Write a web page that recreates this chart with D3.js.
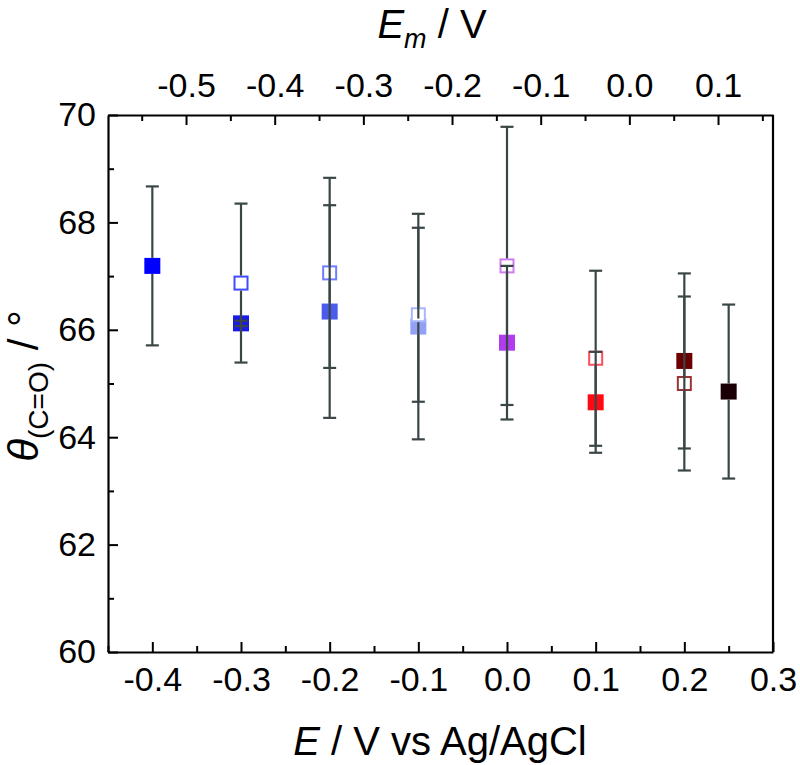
<!DOCTYPE html>
<html>
<head>
<meta charset="utf-8">
<script src="https://cdn.jsdelivr.net/npm/d3@7/dist/d3.min.js"></script>
<style>
  html, body { margin: 0; padding: 0; background: #fff; }
  svg { display: block; font-family: "Liberation Sans", Arial, sans-serif; }
</style>
</head>
<body>
<svg id="chart" width="800" height="765"></svg>
<script>
// ---- data ----
const filledE     = [-0.4, -0.3, -0.2, -0.1, 0.0, 0.1, 0.2, 0.25];
const filledTheta = [67.19, 66.12, 66.34, 66.06, 65.76, 64.65, 65.42, 64.85];
const filledErr   = [1.48, 0.05, 1.98, 2.10, 1.43, 0.94, 1.63, 1.62];
const filledColor = ["#0000ff", "#1a1ae6", "#4b5ced", "#93a1f5", "#b03cee", "#ff0a14", "#6b0000", "#1a0006"];

const openE     = [-0.3, -0.2, -0.1, 0.0, 0.1, 0.2];
const openTheta = [66.87, 67.06, 66.28, 67.19, 65.47, 65.00];
const openErr   = [1.48, 1.77, 1.62, 2.59, 1.63, 1.62];
const openColor = ["#3f4cff", "#6f7cff", "#aab5ff", "#cf7cf2", "#ff4d5a", "#9a3535"];

const xTicks = [-0.4, -0.3, -0.2, -0.1, 0.0, 0.1, 0.2, 0.3];
const xMinor = [-0.45, -0.35, -0.25, -0.15, -0.05, 0.05, 0.15, 0.25];
const topTicks = [-0.5, -0.4, -0.3, -0.2, -0.1, 0.0, 0.1];
const topMinor = [-0.55, -0.45, -0.35, -0.25, -0.15, -0.05, 0.05, 0.15];
const emOffset = 0.138;
const yTicks = [60, 62, 64, 66, 68, 70];
const yMinor = [61, 63, 65, 67, 69];

// ---- layout ----
const L = 108, R = 773, T = 115, B = 652;
const svg = d3.select("#chart");
const x = d3.scaleLinear().domain([-0.45, 0.3]).range([L, R]);
const xTop = d3.scaleLinear().domain([-0.45 - emOffset, 0.3 - emOffset]).range([L, R]);
const y = d3.scaleLinear().domain([60, 70]).range([B, T]);
const fmt = d => d.toFixed(1);
const tickFont = 34;

function styleAxis(g) {
  g.selectAll("path.domain").attr("stroke", "#000").attr("stroke-width", 2.2);
  g.selectAll(".tick line").attr("stroke", "#000").attr("stroke-width", 2);
  g.selectAll(".tick text").attr("fill", "#000").attr("font-size", tickFont)
    .attr("font-family", "'Liberation Sans', Arial, sans-serif");
}

// bottom axis
svg.append("g").attr("transform", `translate(0,${B})`)
  .call(d3.axisBottom(x).tickValues(xTicks).tickFormat(fmt).tickSizeInner(-10).tickSizeOuter(0).tickPadding(15))
  .call(styleAxis);
svg.append("g").attr("transform", `translate(0,${B})`)
  .call(d3.axisBottom(x).tickValues(xMinor).tickFormat("").tickSizeInner(-6).tickSizeOuter(0))
  .call(styleAxis).select("path.domain").remove();

// top axis
svg.append("g").attr("transform", `translate(0,${T})`)
  .call(d3.axisTop(xTop).tickValues(topTicks).tickFormat(fmt).tickSizeInner(-10).tickSizeOuter(0).tickPadding(18))
  .call(styleAxis);
svg.append("g").attr("transform", `translate(0,${T})`)
  .call(d3.axisTop(xTop).tickValues(topMinor).tickFormat("").tickSizeInner(-6).tickSizeOuter(0))
  .call(styleAxis).select("path.domain").remove();

// left axis
svg.append("g").attr("transform", `translate(${L},0)`)
  .call(d3.axisLeft(y).tickValues(yTicks).tickFormat(d3.format("d")).tickSizeInner(-10).tickSizeOuter(0).tickPadding(12))
  .call(styleAxis);
svg.append("g").attr("transform", `translate(${L},0)`)
  .call(d3.axisLeft(y).tickValues(yMinor).tickFormat("").tickSizeInner(-6).tickSizeOuter(0))
  .call(styleAxis).select("path.domain").remove();

// right border
svg.append("line").attr("x1", R).attr("x2", R).attr("y1", T).attr("y2", B)
  .attr("stroke", "#000").attr("stroke-width", 2.2);

// ---- titles ----
const bt = svg.append("text").attr("x", 440).attr("y", 755)
  .attr("text-anchor", "middle").attr("font-size", 40).attr("fill", "#000");
bt.append("tspan").attr("font-style", "italic").text("E");
bt.append("tspan").text(" / V vs Ag/AgCl");

const tt = svg.append("text").attr("x", 432).attr("y", 38)
  .attr("text-anchor", "middle").attr("font-size", 40).attr("fill", "#000");
tt.append("tspan").attr("font-style", "italic").text("E");
tt.append("tspan").attr("font-style", "italic").attr("font-size", 27).attr("dy", 10).text("m");
tt.append("tspan").attr("dy", -10).text(" / V");

const yt = svg.append("text").attr("transform", `translate(38,386) rotate(-90)`)
  .attr("text-anchor", "middle").attr("font-size", 42).attr("fill", "#000");
yt.append("tspan").attr("font-style", "italic").text("θ");
yt.append("tspan").attr("font-size", 28).attr("dy", 10).text("(C=O)");
yt.append("tspan").attr("dy", -10).text(" / °");

// ---- marks ----
const S = 16;         // filled marker size
const SO = 13;        // open marker inner size (+2px stroke)
const CAP = 13;       // cap width
const barColor = "#3a4646";

const filled = filledE.map((e, i) => ({e, v: filledTheta[i], err: filledErr[i], c: filledColor[i], open: false}));
const open = openE.map((e, i) => ({e, v: openTheta[i], err: openErr[i], c: openColor[i], open: true}));

// markers
svg.append("g").selectAll("rect").data(filled).join("rect")
  .attr("x", d => x(d.e) - S / 2).attr("y", d => y(d.v) - S / 2)
  .attr("width", S).attr("height", S).attr("fill", d => d.c);
svg.append("g").selectAll("rect").data(open).join("rect")
  .attr("x", d => x(d.e) - SO / 2).attr("y", d => y(d.v) - SO / 2)
  .attr("width", SO).attr("height", SO)
  .attr("fill", "#fff").attr("stroke", d => d.c).attr("stroke-width", 2);

// error bars (line stops at the symbol edge)
const all = filled.concat(open);
const eb = svg.append("g").attr("stroke", barColor).attr("stroke-width", 2.2).attr("fill", "none");
all.forEach(d => {
  const cx = x(d.e), yc = y(d.v), yTop = y(d.v + d.err), yBot = y(d.v - d.err);
  const half = (d.open ? SO + 2 : S) / 2;
  if (yc - yTop > half) {
    eb.append("line").attr("x1", cx).attr("x2", cx).attr("y1", yTop).attr("y2", yc - half);
    eb.append("line").attr("x1", cx).attr("x2", cx).attr("y1", yc + half).attr("y2", yBot);
  } else {
    eb.append("line").attr("x1", cx).attr("x2", cx).attr("y1", yTop).attr("y2", yBot);
  }
  eb.append("line").attr("x1", cx - CAP / 2).attr("x2", cx + CAP / 2).attr("y1", yTop).attr("y2", yTop);
  eb.append("line").attr("x1", cx - CAP / 2).attr("x2", cx + CAP / 2).attr("y1", yBot).attr("y2", yBot);
});
</script>
</body>
</html>
